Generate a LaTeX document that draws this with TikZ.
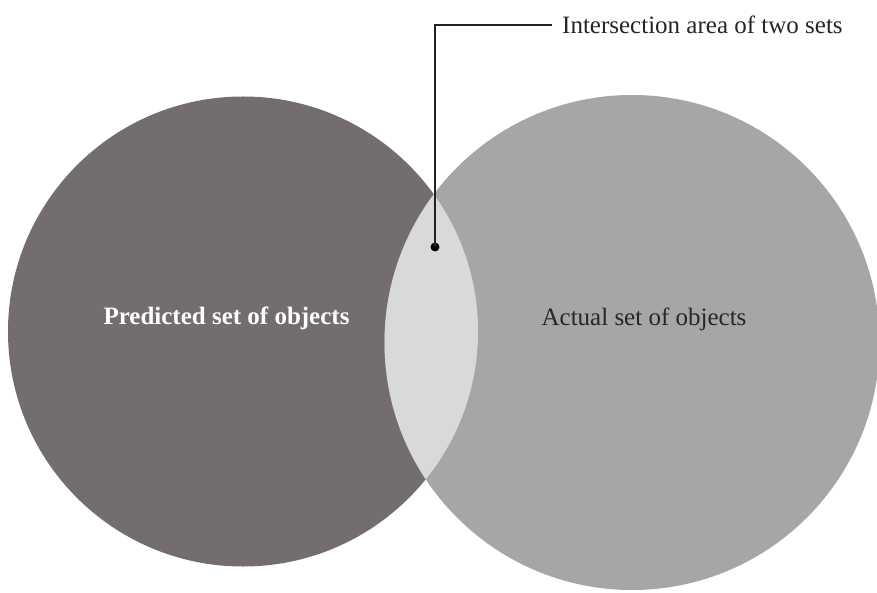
\documentclass[tikz,border=0pt]{standalone}
\usepackage{fontspec}
\setmainfont{Liberation Serif}
\usepackage{xcolor}
\usepackage{tikz}
\usetikzlibrary{positioning}

\definecolor{predgray}{RGB}{115,109,109}
\definecolor{actgray}{RGB}{166,166,166}
\definecolor{overgray}{RGB}{217,217,217}
\definecolor{leadgray}{RGB}{35,35,35}

\tikzset{
  settext/.style={font=\fontsize{25}{30}\selectfont, inner sep=0pt, anchor=base},
  leader/.style={draw=leadgray, line width=1.3pt},
  pin dot/.style={circle, fill=black, inner sep=0pt, minimum size=9pt}
}

\begin{document}
\begin{tikzpicture}[x=1pt,y=1pt]
\useasboundingbox (0,0) rectangle (877,592);
\fill [white] (0,0) rectangle (877,592);

% the two sets
\fill [predgray] (243,260.5) circle (235);
\fill [actgray] (632,249.5) circle (247.5);
\begin{scope}
	\clip (243,260.5) circle (235);
	\fill [overgray] (632,249.5) circle (247.5);
\end{scope}

\node (pred) [settext, white] at (226.5,267) {\textbf{Predicted set of objects}};
\node (act) [settext, black!85] at (644,266) {Actual set of objects};

% pointer to the overlap
\node (dot) [pin dot] at (435,345) {};
\node (inter) [settext, anchor=west, inner xsep=10pt, inner ysep=2pt, black!85] at (552,567) {Intersection area of two sets};
\draw [leader] (dot.center) |- (inter.west);
\end{tikzpicture}
\end{document}
